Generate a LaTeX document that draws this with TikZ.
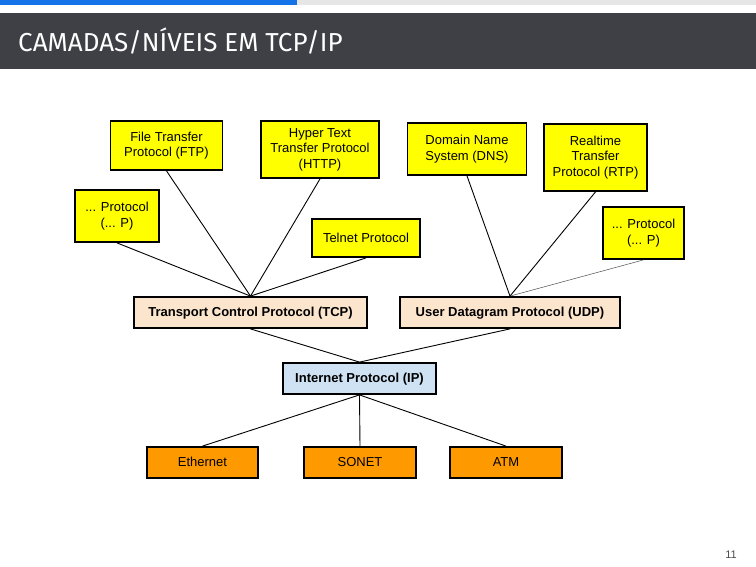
\documentclass[tikz,border=0pt]{standalone}
\usepackage{fontspec}
\setmainfont{Liberation Sans}
\newfontfamily\titlefont{Fira Sans}
\usetikzlibrary{positioning}
\definecolor{hdrgray}{HTML}{3F3F46}
\definecolor{barblue}{HTML}{1573EA}
\definecolor{barlight}{HTML}{E6E6E6}
\definecolor{protoyellow}{HTML}{FFFF00}
\definecolor{tcppeach}{HTML}{FCE5CD}
\definecolor{ipblue}{HTML}{CFE2F3}
\definecolor{linkorange}{HTML}{FF9900}

\tikzset{
  layerbox/.style={draw=black, line width=1.8pt, align=center, inner sep=2pt,
    font=\fontsize{13}{15.5}\selectfont},
  oneline/.style={text height=9.5pt, text depth=0.8pt},
  appbox/.style={layerbox, fill=protoyellow},
  transbox/.style={layerbox, oneline, fill=tcppeach, font=\fontsize{13}{15.5}\selectfont\bfseries},
  netbox/.style={layerbox, oneline, fill=ipblue, font=\fontsize{13}{15.5}\selectfont\bfseries},
  linkbox/.style={layerbox, oneline, fill=linkorange},
  wire/.style={draw=black, line width=0.9pt}
}

\begin{document}
\begin{tikzpicture}[x=1pt, y=-1pt]
  \useasboundingbox (0,0) rectangle (756,567);
  % header
  \fill[barlight] (0,0) rectangle (756,5);
  \fill[barblue] (0,0) rectangle (297,5);
  \fill[hdrgray] (0,13) rectangle (756,69);
  \node[anchor=base west, inner sep=0, text=white, font=\titlefont\fontsize{26}{30}\selectfont]
    (title) at (18,51.5) {CAMADAS/NÍVEIS EM TCP/IP};

  % application layer
  \node[appbox, minimum width=112, minimum height=49] (ftp) at (166.5,145.5) {File Transfer\\Protocol (FTP)};
  \node[appbox, minimum width=118, minimum height=57] (http) at (320,149.5) {Hyper Text\\Transfer Protocol\\(HTTP)};
  \node[appbox, minimum width=84, minimum height=52] (lproto) at (117,216) {... Protocol\\(... P)};
  \node[appbox, oneline, minimum width=108, minimum height=38] (telnet) at (366,238) {Telnet Protocol};
  \node[appbox, minimum width=119, minimum height=52] (dns) at (467,149) {Domain Name\\System (DNS)};
  \node[appbox, minimum width=103, minimum height=67] (rtp) at (595.5,157.5) {Realtime\\Transfer\\Protocol (RTP)};
  \node[appbox, minimum width=81, minimum height=52] (rproto) at (643.5,233) {... Protocol\\(... P)};

  % transport layer
  \node[transbox, minimum width=233, minimum height=31] (tcp) at (250.5,312.5) {Transport Control Protocol (TCP)};
  \node[transbox, minimum width=220, minimum height=31] (udp) at (510,312.5) {User Datagram Protocol (UDP)};

  % network layer
  \node[netbox, minimum width=153, minimum height=31] (ip) at (359.5,378.5) {Internet Protocol (IP)};

  % link layer
  \node[linkbox, minimum width=111, minimum height=31] (eth) at (202.5,462.5) {Ethernet};
  \node[linkbox, minimum width=112, minimum height=31] (sonet) at (360,462.5) {SONET};
  \node[linkbox, minimum width=112, minimum height=31] (atm) at (506,462.5) {ATM};

  % connectors
  \foreach \app in {ftp,http,lproto,telnet}
    \draw[wire] (\app.south) -- (tcp.north);
  \foreach \app in {dns,rtp}
    \draw[wire] (\app.south) -- (udp.north);
  \draw[draw=black!70, line width=0.5pt] (rproto.south) -- (udp.north);
  \draw[wire] (tcp.south) -- (ip.north);
  \draw[wire] (udp.south) -- (ip.north);
  \foreach \link in {eth,sonet,atm}
    \draw[wire] (ip.south) -- (\link.north);

  % page number
  \node[text=black!70, font=\fontsize{11}{13}\selectfont] (pageno) at (731,555) {11};
\end{tikzpicture}
\end{document}
